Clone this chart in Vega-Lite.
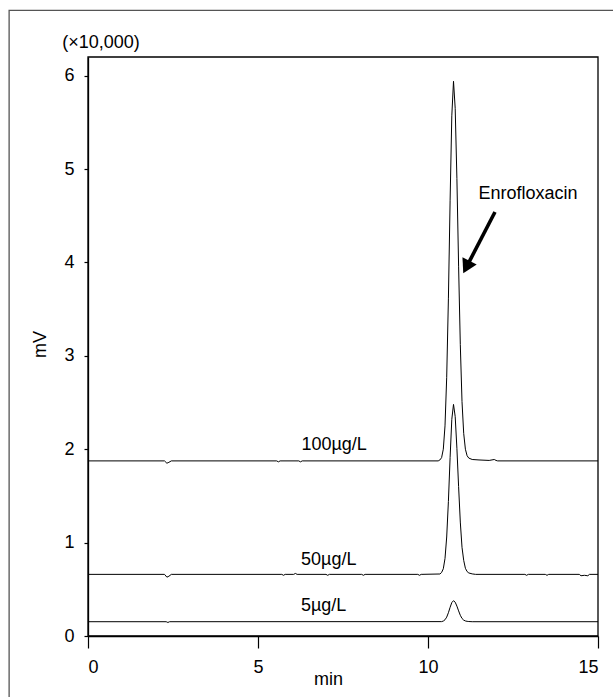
{
  "$schema": "https://vega.github.io/schema/vega-lite/v6.json",
  "width": 510,
  "height": 579,
  "autosize": {"type": "none"},
  "padding": {"left": 88, "top": 57, "right": 15, "bottom": 61},
  "background": "white",
  "config": {
    "font": "Liberation Sans",
    "view": {"stroke": null},
    "axis": {"domainColor": "black", "tickColor": "black", "labelColor": "black", "titleColor": "black", "grid": false, "labelFontSize": 18, "titleFontSize": 18, "titleFontWeight": "normal", "domainWidth": 1.3, "tickWidth": 1.2}
  },
  "datasets": {
    "traces": [
      {"series": "100", "t": 0, "v": 1.875}, {"series": "100", "t": 2.25, "v": 1.875}, {"series": "100", "t": 2.32, "v": 1.85}, {"series": "100", "t": 2.38, "v": 1.86}, {"series": "100", "t": 2.45, "v": 1.875},
      {"series": "100", "t": 5.55, "v": 1.875}, {"series": "100", "t": 5.6, "v": 1.865}, {"series": "100", "t": 5.65, "v": 1.875}, {"series": "100", "t": 6.2, "v": 1.875}, {"series": "100", "t": 6.25, "v": 1.865}, {"series": "100", "t": 6.3, "v": 1.875},
      {"series": "100", "t": 10.3, "v": 1.875}, {"series": "100", "t": 10.35, "v": 1.885}, {"series": "100", "t": 10.4, "v": 1.91}, {"series": "100", "t": 10.45, "v": 2.0}, {"series": "100", "t": 10.5, "v": 2.25}, {"series": "100", "t": 10.55, "v": 2.77}, {"series": "100", "t": 10.6, "v": 3.61}, {"series": "100", "t": 10.65, "v": 4.66}, {"series": "100", "t": 10.7, "v": 5.57}, {"series": "100", "t": 10.75, "v": 5.94}, {"series": "100", "t": 10.8, "v": 5.65}, {"series": "100", "t": 10.85, "v": 4.9}, {"series": "100", "t": 10.9, "v": 3.96}, {"series": "100", "t": 10.95, "v": 3.12}, {"series": "100", "t": 11.0, "v": 2.51}, {"series": "100", "t": 11.05, "v": 2.17}, {"series": "100", "t": 11.1, "v": 2.0}, {"series": "100", "t": 11.15, "v": 1.93}, {"series": "100", "t": 11.2, "v": 1.905}, {"series": "100", "t": 11.3, "v": 1.89}, {"series": "100", "t": 11.5, "v": 1.885}, {"series": "100", "t": 11.8, "v": 1.88}, {"series": "100", "t": 11.95, "v": 1.89}, {"series": "100", "t": 12.0, "v": 1.88}, {"series": "100", "t": 12.05, "v": 1.875}, {"series": "100", "t": 15, "v": 1.875},
      {"series": "50", "t": 0, "v": 0.66}, {"series": "50", "t": 2.25, "v": 0.66}, {"series": "50", "t": 2.32, "v": 0.63}, {"series": "50", "t": 2.38, "v": 0.64}, {"series": "50", "t": 2.45, "v": 0.66},
      {"series": "50", "t": 5.7, "v": 0.66}, {"series": "50", "t": 5.75, "v": 0.65}, {"series": "50", "t": 5.8, "v": 0.66}, {"series": "50", "t": 6.05, "v": 0.66}, {"series": "50", "t": 6.1, "v": 0.67}, {"series": "50", "t": 6.15, "v": 0.66}, {"series": "50", "t": 7.0, "v": 0.66}, {"series": "50", "t": 7.05, "v": 0.65}, {"series": "50", "t": 7.1, "v": 0.66}, {"series": "50", "t": 8.05, "v": 0.66}, {"series": "50", "t": 8.1, "v": 0.65}, {"series": "50", "t": 8.15, "v": 0.66}, {"series": "50", "t": 9.7, "v": 0.66}, {"series": "50", "t": 9.75, "v": 0.65}, {"series": "50", "t": 9.8, "v": 0.66},
      {"series": "50", "t": 10.35, "v": 0.664}, {"series": "50", "t": 10.4, "v": 0.68}, {"series": "50", "t": 10.45, "v": 0.72}, {"series": "50", "t": 10.5, "v": 0.83}, {"series": "50", "t": 10.55, "v": 1.06}, {"series": "50", "t": 10.6, "v": 1.44}, {"series": "50", "t": 10.65, "v": 1.91}, {"series": "50", "t": 10.7, "v": 2.32}, {"series": "50", "t": 10.75, "v": 2.48}, {"series": "50", "t": 10.8, "v": 2.35}, {"series": "50", "t": 10.85, "v": 2.01}, {"series": "50", "t": 10.9, "v": 1.6}, {"series": "50", "t": 10.95, "v": 1.22}, {"series": "50", "t": 11.0, "v": 0.95}, {"series": "50", "t": 11.05, "v": 0.81}, {"series": "50", "t": 11.1, "v": 0.725}, {"series": "50", "t": 11.15, "v": 0.69}, {"series": "50", "t": 11.2, "v": 0.675}, {"series": "50", "t": 11.3, "v": 0.665}, {"series": "50", "t": 11.4, "v": 0.66},
      {"series": "50", "t": 12.85, "v": 0.66}, {"series": "50", "t": 12.9, "v": 0.65}, {"series": "50", "t": 12.95, "v": 0.66}, {"series": "50", "t": 13.45, "v": 0.66}, {"series": "50", "t": 13.5, "v": 0.65}, {"series": "50", "t": 13.55, "v": 0.66}, {"series": "50", "t": 14.45, "v": 0.66}, {"series": "50", "t": 14.5, "v": 0.645}, {"series": "50", "t": 14.6, "v": 0.65}, {"series": "50", "t": 14.7, "v": 0.645}, {"series": "50", "t": 14.75, "v": 0.66}, {"series": "50", "t": 15, "v": 0.66},
      {"series": "5", "t": 0, "v": 0.153}, {"series": "5", "t": 2.3, "v": 0.153}, {"series": "5", "t": 2.35, "v": 0.145}, {"series": "5", "t": 2.4, "v": 0.153}, {"series": "5", "t": 10.4, "v": 0.154}, {"series": "5", "t": 10.45, "v": 0.16}, {"series": "5", "t": 10.5, "v": 0.174}, {"series": "5", "t": 10.55, "v": 0.202}, {"series": "5", "t": 10.6, "v": 0.249}, {"series": "5", "t": 10.65, "v": 0.307}, {"series": "5", "t": 10.7, "v": 0.358}, {"series": "5", "t": 10.75, "v": 0.378}, {"series": "5", "t": 10.8, "v": 0.362}, {"series": "5", "t": 10.85, "v": 0.32}, {"series": "5", "t": 10.9, "v": 0.269}, {"series": "5", "t": 10.95, "v": 0.222}, {"series": "5", "t": 11.0, "v": 0.188}, {"series": "5", "t": 11.05, "v": 0.17}, {"series": "5", "t": 11.1, "v": 0.161}, {"series": "5", "t": 11.15, "v": 0.157}, {"series": "5", "t": 11.2, "v": 0.155}, {"series": "5", "t": 11.3, "v": 0.153}, {"series": "5", "t": 15, "v": 0.153}
    ],
    "labels": [
      {"label": "100µg/L", "t": 7.24, "v": 2.04},
      {"label": "50µg/L", "t": 7.08, "v": 0.81},
      {"label": "5µg/L", "t": 6.93, "v": 0.32},
      {"label": "Enrofloxacin", "t": 12.94, "v": 4.73}
    ],
    "unit": [
      {"label": "(×10,000)", "t": -0.76, "v": 6.35}
    ],
    "arrow": [
      {"t": 11.97, "v": 4.54, "t2": 11.13, "v2": 3.95}
    ]
  },
  "layer": [
    {
      "data": {"values": [{}]},
      "mark": {"type": "rect", "fill": null, "stroke": "#555", "strokeWidth": 1.3, "clip": false},
      "encoding": {
        "x": {"datum": -2.32, "type": "quantitative"},
        "x2": {"datum": 15.7},
        "y": {"datum": 6.7, "type": "quantitative"},
        "y2": {"datum": -0.8}
      }
    },
    {
      "data": {"values": [{}]},
      "mark": {"type": "rect", "fill": null, "stroke": "black", "strokeWidth": 1.3},
      "encoding": {
        "x": {"datum": 0, "type": "quantitative"},
        "x2": {"datum": 15},
        "y": {"datum": 0, "type": "quantitative"},
        "y2": {"datum": 6.2}
      }
    },
    {
      "data": {"name": "traces"},
      "mark": {"type": "line", "color": "black", "strokeWidth": 1, "interpolate": "linear"},
      "encoding": {
        "x": {"field": "t", "type": "quantitative", "scale": {"domain": [0, 15], "nice": false, "zero": false},
          "axis": {"values": [0, 5, 10, 15], "format": "d", "tickSize": 12, "labelFontSize": 18, "labelPadding": 19, "labelBaseline": "middle", "title": "min", "titleFontSize": 18, "titleX": 240, "titleY": 43, "titleBaseline": "middle"}},
        "y": {"field": "v", "type": "quantitative", "scale": {"domain": [0, 6.2], "nice": false},
          "axis": {"values": [0, 1, 2, 3, 4, 5, 6], "format": "d", "tickSize": 4, "labelFontSize": 18, "labelPadding": 10, "title": "mV", "titleFontSize": 18, "titleX": -48, "titleY": 287, "titleBaseline": "middle"}},
        "detail": {"field": "series", "type": "nominal"},
        "order": {"field": "t", "type": "quantitative"}
      }
    },
    {
      "data": {"name": "labels"},
      "mark": {"type": "text", "fontSize": 18, "color": "black", "baseline": "middle", "align": "center"},
      "encoding": {
        "x": {"field": "t", "type": "quantitative"},
        "y": {"field": "v", "type": "quantitative"},
        "text": {"field": "label"}
      }
    },
    {
      "data": {"name": "unit"},
      "mark": {"type": "text", "fontSize": 18, "color": "black", "baseline": "middle", "align": "left", "clip": false},
      "encoding": {
        "x": {"field": "t", "type": "quantitative"},
        "y": {"field": "v", "type": "quantitative"},
        "text": {"field": "label"}
      }
    },
    {
      "data": {"name": "arrow"},
      "mark": {"type": "rule", "color": "black", "strokeWidth": 3.6},
      "encoding": {
        "x": {"field": "t", "type": "quantitative"},
        "y": {"field": "v", "type": "quantitative"},
        "x2": {"field": "t2"},
        "y2": {"field": "v2"}
      }
    },
    {
      "data": {"name": "arrow"},
      "mark": {"type": "point", "shape": "triangle-up", "filled": true, "color": "black", "opacity": 1, "size": 256, "angle": 207},
      "encoding": {
        "x": {"field": "t2", "type": "quantitative"},
        "y": {"field": "v2", "type": "quantitative"}
      }
    }
  ]
}
